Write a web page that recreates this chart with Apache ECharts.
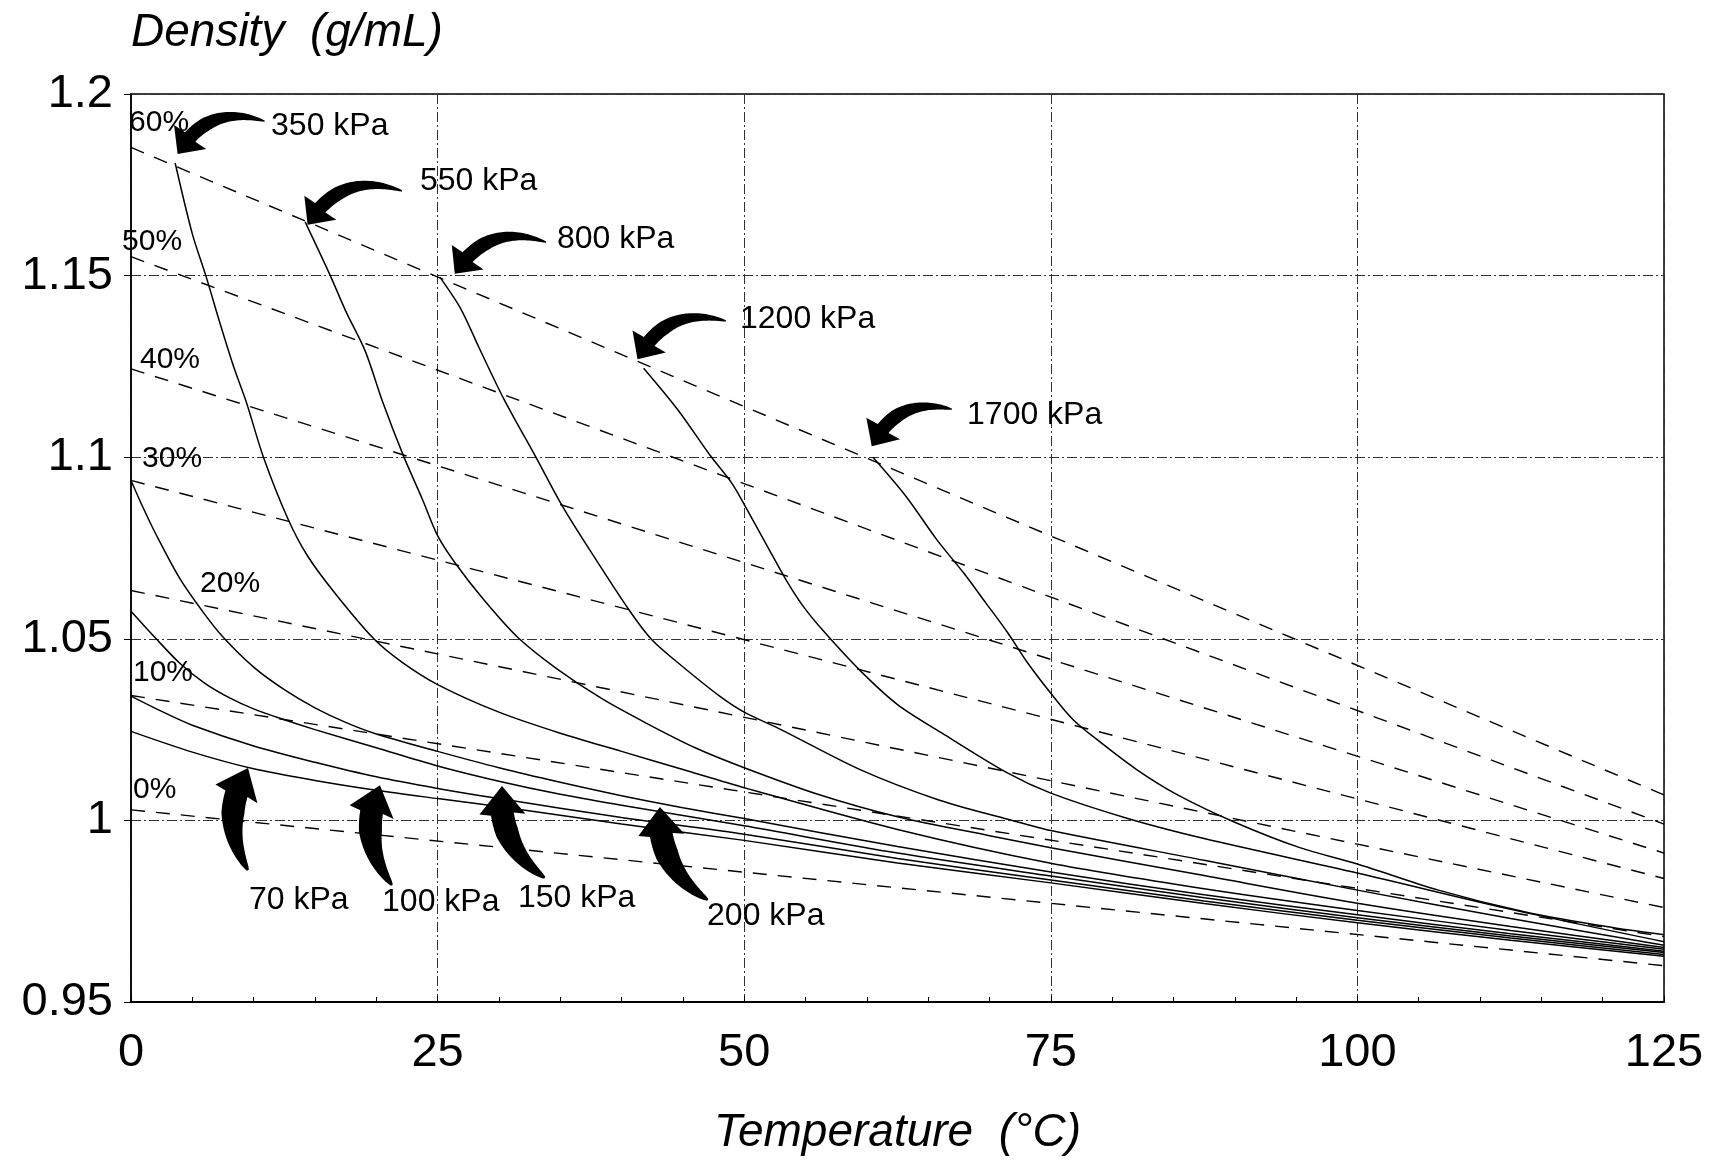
<!DOCTYPE html>
<html>
<head>
<meta charset="utf-8">
<script src="https://cdn.jsdelivr.net/npm/echarts/dist/echarts.min.js"></script>
<style>
html,body{margin:0;padding:0;background:#ffffff;}
#chart{width:1711px;height:1161px;}
</style>
</head>
<body>
<div id="chart"></div>
<script>
// ---------------- DATA ----------------
const xTicks = [0, 25, 50, 75, 100, 125];
const yTicks = [0.95, 1.0, 1.05, 1.1, 1.15, 1.2];

// concentration (dashed) lines: density at 0 °C and at 125 °C
const pctLabels = ['0%', '10%', '20%', '30%', '40%', '50%', '60%'];
const pctTemps = [0, 125];
const pctStart = [1.0029, 1.0344, 1.0633, 1.0936, 1.1243, 1.1552, 1.1853];
const pctEnd   = [0.9600, 0.9680, 0.9760, 0.9840, 0.9910, 0.9990, 1.0070];

// pressure (solid) curves: [temperature, density]
const pressureLabels = ['70 kPa', '100 kPa', '150 kPa', '200 kPa', '350 kPa', '550 kPa', '800 kPa', '1200 kPa', '1700 kPa'];
const p70 = [[0,1.0245],[5,1.0188],[10,1.0142],[15,1.0110],[20,1.0083],[25,1.0060],[30,1.0038],[40,0.9990],[50,0.9945],[62.5,0.9883],[75,0.9828],[87.5,0.9771],[100,0.9718],[112.5,0.9670],[125,0.9626]];
const p100 = [[0,1.0342],[2.5,1.0300],[5,1.0262],[10,1.0205],[15,1.0160],[20,1.0120],[25,1.0088],[30,1.0060],[40,1.0008],[50,0.9962],[62.5,0.9895],[75,0.9836],[87.5,0.9778],[100,0.9725],[112.5,0.9676],[125,0.9631]];
const p150 = [[0,1.0576],[2,1.0502],[4,1.0432],[6,1.0378],[8,1.0338],[10,1.0307],[12.5,1.0277],[15,1.0250],[20,1.0200],[25,1.0150],[30,1.0108],[35,1.0072],[40,1.0042],[50,0.9985],[62.5,0.9910],[75,0.9847],[87.5,0.9787],[100,0.9732],[112.5,0.9682],[125,0.9636]];
const p200 = [[0,1.0936],[1,1.0860],[2,1.0790],[4,1.0665],[6,1.0568],[7.5,1.0505],[10,1.0422],[12.5,1.0360],[15,1.0310],[17.5,1.0270],[20,1.0238],[25,1.0190],[30,1.0145],[35,1.0105],[40,1.0068],[45,1.0035],[50,1.0005],[62.5,0.9928],[75,0.9858],[87.5,0.9795],[100,0.9740],[112.5,0.9688],[125,0.9640]];
const p350 = [[3.6,1.1810],[5.0,1.1615],[6.1,1.1500],[7.2,1.1375],[8.4,1.1246],[9.4,1.1152],[10.8,1.1000],[12.8,1.0830],[14.4,1.0728],[16.6,1.0627],[19.8,1.0500],[22,1.0438],[25,1.0374],[30,1.0298],[35,1.0240],[40,1.0190],[45,1.0140],[50,1.0090],[62.5,0.9975],[75,0.9882],[87.5,0.9812],[100,0.9752],[112.5,0.9697],[125,0.9645]];
const p550 = [[14.2,1.1648],[16.25,1.1500],[17.5,1.1403],[19.1,1.1292],[20.5,1.1154],[22.2,1.1005],[23.75,1.0885],[25,1.0784],[26.4,1.0710],[28.7,1.0610],[31.5,1.0505],[34.7,1.0418],[38.4,1.0335],[42,1.0268],[46,1.0200],[50,1.0145],[56,1.0072],[62.5,1.0010],[70,0.9958],[75,0.9925],[87.5,0.9848],[100,0.9772],[112.5,0.9708],[125,0.9650]];
const p800 = [[25.2,1.1495],[26.9,1.1408],[28.4,1.1300],[30.45,1.1157],[33.0,1.1001],[35.2,1.0864],[37.4,1.0745],[40.6,1.0580],[42.45,1.0498],[44.6,1.0434],[48,1.0342],[50,1.0298],[53,1.0250],[59.5,1.0139],[65.8,1.0057],[71.5,1.0003],[75,0.9972],[87.5,0.9890],[100,0.9808],[112.5,0.9730],[125,0.9656]];
const p1200 = [[41.8,1.1245],[44.6,1.1130],[47.2,1.1006],[49.0,1.0928],[50.1,1.0864],[51.9,1.0754],[53.4,1.0663],[54.8,1.0590],[56.5,1.0520],[59.5,1.0411],[62.5,1.0319],[66.1,1.0241],[71.5,1.0130],[75,1.0075],[81.2,1.0006],[87.5,0.9950],[100,0.9855],[112.5,0.9755],[125,0.9666]];
const p1700 = [[60.5,1.1000],[63.2,1.0892],[65.7,1.0773],[67.9,1.0681],[69.7,1.0599],[71.5,1.0516],[73,1.0439],[75,1.0350],[76.8,1.0278],[78.9,1.0219],[82,1.0140],[85.3,1.0071],[90,0.9995],[95.3,0.9925],[100,0.9880],[106.6,0.9808],[113.7,0.9748],[120.8,0.9705],[125,0.9685]];
const pressureCurves = [p70, p100, p150, p200, p350, p550, p800, p1200, p1700];

// ---------------- ANNOTATION ANCHORS (data coordinates) ----------------
const pctLabelAt = [[0.16,1.0084],[0.16,1.0406],[5.63,1.0651],[0.9,1.0995],[0.73,1.1268],[-0.73,1.1593],[-0.16,1.1920]];
const pLabelAt = [[9.62,0.9781],[20.47,0.9776],[31.55,0.9787],[46.97,0.9735],[11.42,1.1911],[23.56,1.1759],[34.73,1.1601],[49.66,1.1381],[68.17,1.1116]];
const arrowTip = [[9.54,1.0144],[20.30,1.0097],[30.25,1.0095],[43.13,1.0037],[3.80,1.1835],[14.40,1.1640],[26.40,1.1505],[41.30,1.1270],[60.40,1.1030]];
const arrowTail = [[9.54,0.9863],[21.28,0.9822],[33.74,0.9842],[47.03,0.9781],[10.90,1.1925],[22.10,1.1733],[33.84,1.1592],[48.51,1.1375],[66.94,1.1132]];

// ---------------- CHART ----------------
const FONT = '"Liberation Sans", Arial, Helvetica, sans-serif';
const chart = echarts.init(document.getElementById('chart'), null, {renderer: 'canvas'});

const gridLine = {show: true, lineStyle: {color: '#333', width: 1, type: [10, 3, 2, 3]}};

const series = [];
pctLabels.forEach((lab, i) => {
  series.push({
    name: lab, type: 'line', symbol: 'none', silent: true, z: 3,
    data: [[pctTemps[0], pctStart[i]], [pctTemps[1], pctEnd[i]]],
    lineStyle: {color: '#000', width: 1.4, type: [14, 11]}
  });
});
pressureCurves.forEach((c, i) => {
  series.push({
    name: pressureLabels[i], type: 'line', symbol: 'none', silent: true, z: 4,
    smooth: 0.3,
    data: c,
    lineStyle: {color: '#000', width: 1.5, type: 'solid'}
  });
});

const option = {
  animation: false,
  backgroundColor: '#ffffff',
  grid: {left: 131, right: 47, top: 94, bottom: 159, show: true, borderColor: '#000', borderWidth: 1.5, backgroundColor: 'transparent'},
  xAxis: {
    type: 'value', min: xTicks[0], max: xTicks[xTicks.length - 1], interval: 25,
    axisLine: {show: true, onZero: false, lineStyle: {color: '#000', width: 2}},
    axisTick: {show: true, inside: true, length: 6, lineStyle: {color: '#000'}},
    minorTick: {show: true, splitNumber: 5, length: 5, lineStyle: {color: '#000'}},
    axisLabel: {color: '#000', fontSize: 47, fontFamily: FONT, margin: 28},
    splitLine: gridLine,
    name: 'Temperature  (°C)', nameLocation: 'middle', nameGap: 108,
    nameTextStyle: {color: '#000', fontSize: 46, fontStyle: 'italic', fontFamily: FONT}
  },
  yAxis: {
    type: 'value', min: yTicks[0], max: yTicks[yTicks.length - 1], interval: 0.05,
    axisLine: {show: true, onZero: false, lineStyle: {color: '#000', width: 1.5}},
    axisTick: {show: true, inside: false, length: 7, lineStyle: {color: '#000'}},
    axisLabel: {color: '#000', fontSize: 47, fontFamily: FONT, margin: 18},
    splitLine: gridLine,
    name: 'Density  (g/mL)', nameLocation: 'end', nameGap: 61,
    nameTextStyle: {color: '#000', fontSize: 46, fontStyle: 'italic', fontFamily: FONT, align: 'left', verticalAlign: 'middle'}
  },
  series: series
};
chart.setOption(option);

// ---------------- ANNOTATIONS ----------------
function toPx(p) { return chart.convertToPixel({xAxisIndex: 0, yAxisIndex: 0}, p); }

function arrowPoly(tail, tip, bend, wTail, wBody, headW, headL) {
  const dx = tip[0] - tail[0], dy = tip[1] - tail[1];
  const L = Math.hypot(dx, dy);
  const nx = dy / L, ny = -dx / L;
  const C = [(tail[0] + tip[0]) / 2 + nx * bend * L, (tail[1] + tip[1]) / 2 + ny * bend * L];
  const B = t => [(1 - t) * (1 - t) * tail[0] + 2 * (1 - t) * t * C[0] + t * t * tip[0],
                  (1 - t) * (1 - t) * tail[1] + 2 * (1 - t) * t * C[1] + t * t * tip[1]];
  const D = t => [2 * (1 - t) * (C[0] - tail[0]) + 2 * t * (tip[0] - C[0]),
                  2 * (1 - t) * (C[1] - tail[1]) + 2 * t * (tip[1] - C[1])];
  let tn = 0.7;
  for (let t = 1; t > 0; t -= 0.002) {
    const p = B(t);
    if (Math.hypot(p[0] - tip[0], p[1] - tip[1]) >= headL) { tn = t; break; }
  }
  const N = 40, left = [], right = [];
  for (let i = 0; i <= N; i++) {
    const t = tn * i / N;
    const p = B(t), d = D(t);
    const dl = Math.hypot(d[0], d[1]);
    const ux = d[1] / dl, uy = -d[0] / dl;
    const f = Math.min(1, (i / N) / 0.75);
    const w = wTail + (wBody - wTail) * Math.pow(f, 0.7);
    left.push([p[0] + ux * w / 2, p[1] + uy * w / 2]);
    right.push([p[0] - ux * w / 2, p[1] - uy * w / 2]);
  }
  const neck = B(tn);
  const hx = tip[0] - neck[0], hy = tip[1] - neck[1];
  const hl = Math.hypot(hx, hy);
  const hux = hy / hl, huy = -hx / hl;
  const hL = [neck[0] + hux * headW / 2, neck[1] + huy * headW / 2];
  const hR = [neck[0] - hux * headW / 2, neck[1] - huy * headW / 2];
  return left.concat([hL, tip.slice(), hR], right.reverse());
}

const graphics = [];
pctLabels.forEach((lab, i) => {
  const p = toPx(pctLabelAt[i]);
  graphics.push({type: 'text', x: p[0], y: p[1], z: 20, silent: true,
    style: {text: lab, fontSize: 30, fontFamily: FONT, fill: '#000', align: 'left', verticalAlign: 'middle'}});
});
pressureLabels.forEach((lab, i) => {
  const p = toPx(pLabelAt[i]);
  graphics.push({type: 'text', x: p[0], y: p[1], z: 20, silent: true,
    style: {text: lab, fontSize: 32, fontFamily: FONT, fill: '#000', align: 'left', verticalAlign: 'middle'}});
  const tip = toPx(arrowTip[i]);
  const tail = toPx(arrowTail[i]);
  const lower = i < 4;
  const pts = lower ? arrowPoly(tail, tip, 0.30, 2, 23, 46, 28)
                    : arrowPoly(tail, tip, -0.40, 1, 14, 40, 21);
  graphics.push({type: 'polygon', z: 19, silent: true, shape: {points: pts}, style: {fill: '#000', stroke: null}});
});
chart.setOption({graphic: graphics});
</script>
</body>
</html>
